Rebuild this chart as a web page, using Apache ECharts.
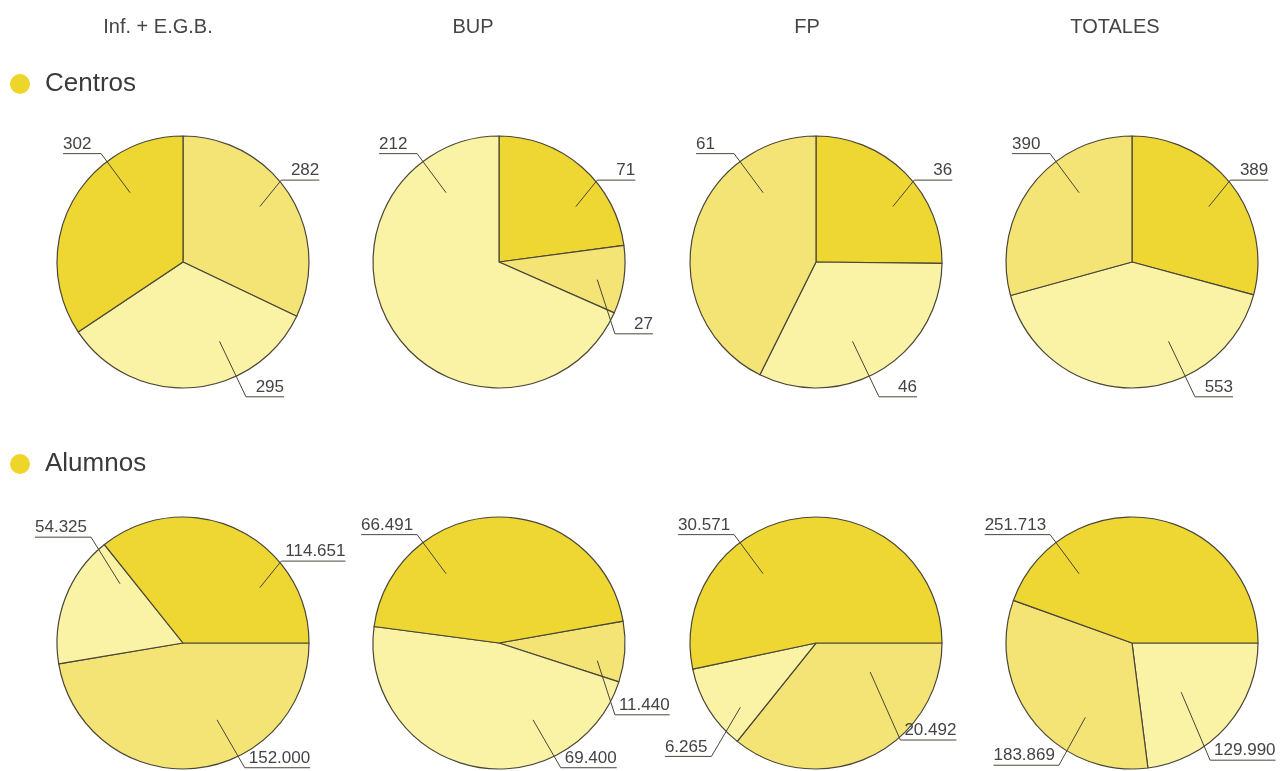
<!DOCTYPE html>
<html>
<head>
<meta charset="utf-8">
<script src="https://cdn.jsdelivr.net/npm/echarts@6/dist/echarts.min.js"></script>
<style>
html,body{margin:0;padding:0;background:#ffffff;}
#chart{width:1286px;height:771px;}
</style>
</head>
<body>
<div id="chart"></div>
<script>
// ---------- DATA ----------
const columnTitles = ['Inf. + E.G.B.', 'BUP', 'FP', 'TOTALES'];
const rowTitles = ['Centros', 'Alumnos'];

// values of each pie, listed clockwise in drawing order
const centrosInfEGB  = [282, 295, 302];
const centrosBUP     = [71, 27, 212];
const centrosFP      = [36, 46, 61];
const centrosTotales = [389, 553, 390];

const alumnosInfEGB  = [152000, 54325, 114651];
const alumnosBUP     = [11440, 69400, 66491];
const alumnosFP      = [20492, 6265, 30571];
const alumnosTotales = [129990, 183869, 251713];

// ---------- STYLE / LAYOUT ----------
const SHADE = { D: '#EED733', M: '#F4E476', L: '#FAF2A4' };
const TEXT = '#444444';
const LINE = '#4a4638';
const FONT = '"Liberation Sans", Arial, sans-serif';

// label leader templates (fractions of radius): inner point, outer point, underline side
const SLOT = {
  UL:  { inner: [-0.42, -0.55], outer: [-0.65, -0.86], side: 'left' },
  ULW: { inner: [-0.50, -0.47], outer: [-0.73, -0.84], side: 'left' },
  UR:  { inner: [0.61, -0.44],  outer: [0.78, -0.65],  side: 'right' },
  LR:  { inner: [0.29, 0.63],   outer: [0.50, 1.07],   side: 'right' },
  LRB: { inner: [0.27, 0.61],   outer: [0.49, 0.99],   side: 'right' },
  R:   { inner: [0.43, 0.23],   outer: [0.67, 0.77],   side: 'right' },
  RL:  { inner: [0.39, 0.39],   outer: [0.62, 0.93],   side: 'right' },
  RS:  { inner: [0.78, 0.14],   outer: [0.92, 0.57],   side: 'right' },
  LLW: { inner: [-0.60, 0.51],  outer: [-0.83, 0.90],  side: 'left' },
  LL:  { inner: [-0.37, 0.59],  outer: [-0.58, 0.97],  side: 'left' }
};

const COL_X = [183, 499, 816, 1132];
const ROW_Y = [262, 643];
const RADIUS = 126;

const pies = [
  { values: centrosInfEGB,  shades: ['M', 'L', 'D'], slots: ['UR', 'LR', 'UL'],   start: 90, col: 0, row: 0 },
  { values: centrosBUP,     shades: ['D', 'M', 'L'], slots: ['UR', 'RS', 'UL'],   start: 90, col: 1, row: 0 },
  { values: centrosFP,      shades: ['D', 'L', 'M'], slots: ['UR', 'LR', 'UL'],   start: 90, col: 2, row: 0 },
  { values: centrosTotales, shades: ['D', 'L', 'M'], slots: ['UR', 'LR', 'UL'],   start: 90, col: 3, row: 0 },
  { values: alumnosInfEGB,  shades: ['M', 'L', 'D'], slots: ['LRB', 'ULW', 'UR'], start: 0,  col: 0, row: 1 },
  { values: alumnosBUP,     shades: ['M', 'L', 'D'], slots: ['RS', 'LRB', 'UL'],  start: 10, col: 1, row: 1 },
  { values: alumnosFP,      shades: ['M', 'L', 'D'], slots: ['R', 'LLW', 'UL'],   start: 0,  col: 2, row: 1 },
  { values: alumnosTotales, shades: ['L', 'M', 'D'], slots: ['RL', 'LL', 'UL'],   start: 0,  col: 3, row: 1 }
];

function fmt(v) {
  return String(v).replace(/\B(?=(\d{3})+(?!\d))/g, '.');
}

const chart = echarts.init(document.getElementById('chart'), null, { renderer: 'canvas' });

const series = [];
pies.forEach(function (p) {
  const cx = COL_X[p.col], cy = ROW_Y[p.row];
  // filled slices
  series.push({
    type: 'pie',
    center: [cx, cy],
    radius: RADIUS,
    startAngle: p.start,
    clockwise: true,
    avoidLabelOverlap: false,
    silent: true,
    animation: false,
    z: 2,
    itemStyle: { borderColor: LINE, borderWidth: 1.2 },
    label: { show: false },
    labelLine: { show: false },
    data: p.values.map(function (v, i) {
      return { value: v, name: columnTitles[p.col] + ' ' + i, itemStyle: { color: SHADE[p.shades[i]] } };
    })
  });
  // same slices, transparent, carrying the labels and leaders on top
  series.push({
    type: 'pie',
    center: [cx, cy],
    radius: RADIUS,
    startAngle: p.start,
    clockwise: true,
    avoidLabelOverlap: false,
    silent: true,
    animation: false,
    z: 5,
    itemStyle: { color: 'rgba(0,0,0,0)', borderWidth: 0 },
    label: {
      show: true,
      position: 'outside',
      color: TEXT,
      fontFamily: FONT,
      fontSize: 17,
      formatter: function (d) { return fmt(d.value); }
    },
    labelLine: {
      show: true,
      length: 10,
      length2: 10,
      smooth: false,
      lineStyle: { color: LINE, width: 1 }
    },
    labelLayout: function (params) {
      const s = SLOT[p.slots[params.dataIndex]];
      const ix = cx + s.inner[0] * RADIUS, iy = cy + s.inner[1] * RADIUS;
      const ox = cx + s.outer[0] * RADIUS, oy = cy + s.outer[1] * RADIUS;
      const L = Math.max(params.labelRect.width + 4, 38);
      const ex = s.side === 'right' ? ox + L : ox - L;
      return {
        x: ex,
        y: oy - 1,
        align: s.side === 'right' ? 'right' : 'left',
        verticalAlign: 'bottom',
        labelLinePoints: [[ix, iy], [ox, oy], [ex, oy]]
      };
    },
    data: p.values.map(function (v, i) {
      return { value: v, name: columnTitles[p.col] + ' ' + i };
    })
  });
});

const graphics = [];
columnTitles.forEach(function (t, i) {
  const hx = [158, 473, 807, 1115][i];
  graphics.push({
    type: 'text', x: hx, y: 27,
    style: { text: t, x: 0, y: 0, align: 'center', verticalAlign: 'middle', fill: '#454545', font: '20px ' + FONT }
  });
});
rowTitles.forEach(function (t, i) {
  const y = [84, 464][i];
  graphics.push({ type: 'circle', shape: { cx: 20, cy: y, r: 10 }, style: { fill: '#EED52A' } });
  graphics.push({
    type: 'text', x: 45, y: y,
    style: { text: t, x: 0, y: 0, align: 'left', verticalAlign: 'middle', fill: '#3a3a3a', font: '26px ' + FONT }
  });
});

chart.setOption({
  backgroundColor: '#ffffff',
  animation: false,
  graphic: graphics,
  series: series
});
</script>
</body>
</html>
